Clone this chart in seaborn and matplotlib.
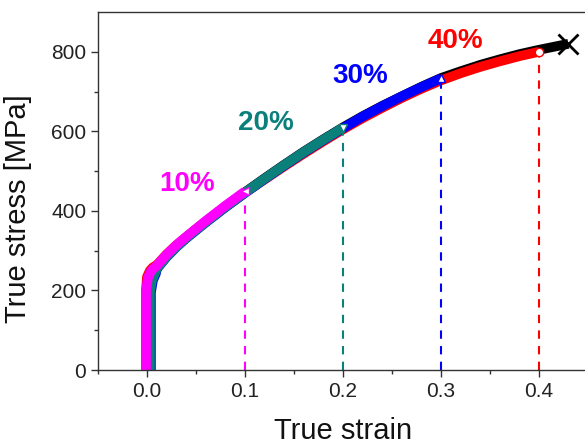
import matplotlib
matplotlib.use("Agg")
import matplotlib.pyplot as plt
import seaborn as sns

# plastic strain grid shared by the curves
strain_pl = [0.01, 0.02, 0.03, 0.04, 0.05, 0.06, 0.07, 0.08, 0.09, 0.10,
             0.12, 0.14, 0.16, 0.18, 0.20, 0.22, 0.24, 0.26, 0.28, 0.30,
             0.32, 0.34, 0.36, 0.38, 0.40, 0.42, 0.43]

# elastic part + plastic part for each interrupted test
el_strain_10 = [-0.001, -0.001, 0.001, 0.004, 0.007]
el_stress_10 = [0, 200, 232, 248, 256]
stress_10 = [262, 290, 314, 335, 355, 375, 394, 413, 431, 449]

el_strain_20 = [0.003, 0.003, 0.005, 0.008]
el_stress_20 = [0, 195, 225, 243]
stress_20 = [255, 285, 310, 332, 352, 372, 391, 410, 428, 446,
             481, 515, 548, 579, 609]

el_strain_30 = [0.004, 0.004, 0.006, 0.009]
el_stress_30 = [0, 195, 225, 242]
stress_30 = [254, 284, 309, 331, 351, 371, 390, 409, 427, 445,
             480, 514, 547, 578, 608, 637, 663, 688, 711, 733]

el_strain_40 = [-0.001, -0.001, 0.0, 0.003, 0.006]
el_stress_40 = [0, 200, 234, 250, 258]
stress_40 = [264, 291, 314, 334, 354, 373, 392, 410, 428, 446,
             479, 512, 544, 575, 605, 633, 659, 684, 707, 728,
             746, 762, 776, 789, 800]

el_strain_frac = [0.0, 0.0, 0.002, 0.005, 0.008]
el_stress_frac = [0, 200, 230, 246, 254]
stress_frac = [260, 288, 312, 333, 353, 373, 392, 411, 429, 447,
               482, 516, 549, 580, 610, 638, 664, 688, 712, 734,
               751, 767, 781, 794, 805, 815, 820]

labels = ["10%", "20%", "30%", "40%"]
targets = [0.1, 0.2, 0.3, 0.4]

sns.set_style("ticks")
plt.rcParams['font.family'] = ['Liberation Sans', 'DejaVu Sans']

fig = plt.figure(figsize=(5.85, 4.43), dpi=100)
ax = fig.add_axes([98 / 585, 73 / 443, 490 / 585, 358 / 443])

curves = [
    (el_strain_frac, el_stress_frac, stress_frac, "black", None),
    (el_strain_40, el_stress_40, stress_40, "#ff0000", "o"),
    (el_strain_30, el_stress_30, stress_30, "#0000ff", "^"),
    (el_strain_20, el_stress_20, stress_20, "#0b7f7a", "v"),
    (el_strain_10, el_stress_10, stress_10, "#ff00ff", "<"),
]

for el_x, el_y, st, col, mk in curves:
    x = el_x + strain_pl[:len(st)]
    y = el_y + st
    sns.lineplot(x=x, y=y, ax=ax, color=col, lw=7, sort=False,
                 estimator=None, solid_capstyle="butt")
    if mk is not None:
        # dashed drop line at the interruption strain
        sns.lineplot(x=[x[-1], x[-1]], y=[0, y[-1]], ax=ax, color=col,
                     lw=1.5, sort=False, estimator=None,
                     linestyle=(0, (4, 3.5)))

# end markers on top
for el_x, el_y, st, col, mk in curves:
    x = el_x + strain_pl[:len(st)]
    y = el_y + st
    if mk is None:
        ax.plot(x[-1], y[-1], marker="x", ms=15, mew=2, color="black",
                zorder=6)
    else:
        ax.plot(x[-1], y[-1], marker=mk, ms=6, mfc="white", mec=col,
                mew=1, zorder=6)

# percentage labels
txt_pos = [(0.0413, 468), (0.1214, 622), (0.218, 738), (0.3148, 826)]
txt_col = ["#ff00ff", "#0b7f7a", "#0000ff", "#ff0000"]
for lab, (tx, ty), c in zip(labels, txt_pos, txt_col):
    ax.text(tx, ty, lab, color=c, fontsize=20, fontweight="bold",
            ha="center", va="center")

ax.set_xlim(-0.05, 0.45)
ax.set_ylim(0, 900)
ax.set_xticks([0.0] + targets)
ax.set_xticklabels(["0.0", "0.1", "0.2", "0.3", "0.4"])
ax.set_xticks([-0.05, 0.05, 0.15, 0.25, 0.35, 0.45], minor=True)
ax.set_yticks([0, 200, 400, 600, 800])
ax.set_yticks([100, 300, 500, 700], minor=True)

for sp in ax.spines.values():
    sp.set_color("#333333")
    sp.set_linewidth(1.0)
ax.tick_params(which="major", direction="out", length=5, width=1,
               colors="#333333", labelsize=15, labelcolor="#222222")
ax.tick_params(which="minor", direction="out", length=3, width=1,
               colors="#333333")

ax.set_xlabel("True strain", fontsize=21, color="#111111")
ax.set_ylabel("True stress [MPa]", fontsize=21, color="#111111")
ax.xaxis.set_label_coords(0.5, -0.13)
ax.yaxis.set_label_coords(-0.135, 0.45)

fig.savefig("out.png", dpi=100)
